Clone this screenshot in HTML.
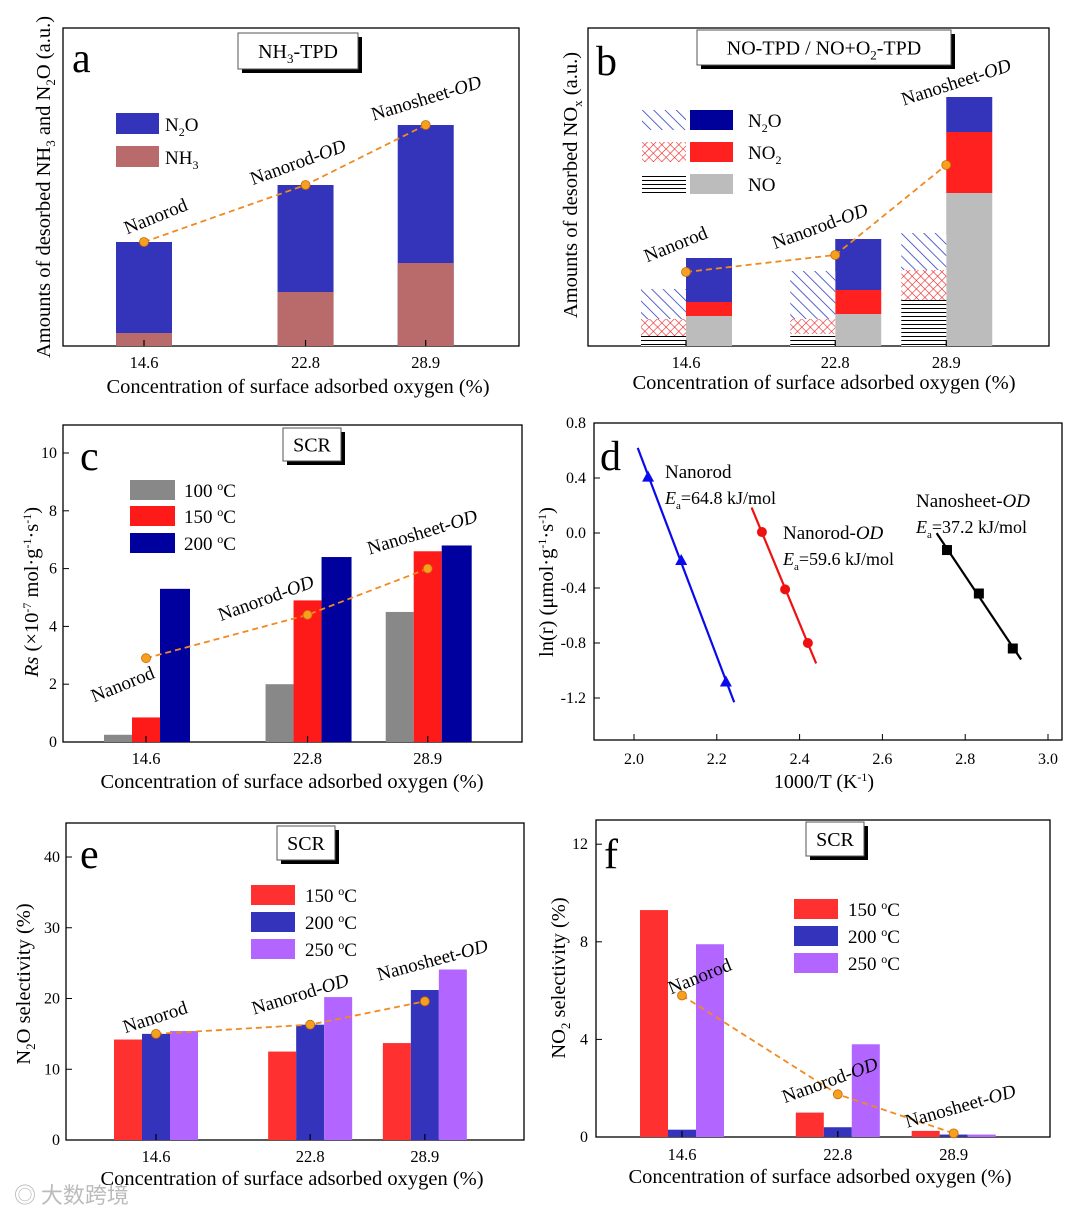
<!DOCTYPE html>
<html><head><meta charset="utf-8"><style>
body{margin:0;background:#fff}
svg{display:block;font-family:"Liberation Serif","Noto Serif CJK SC",serif}
</style></head><body>
<svg id="s" width="1080" height="1215" viewBox="0 0 1080 1215" xmlns="http://www.w3.org/2000/svg">
<defs>
<pattern id="hb" width="8" height="8" patternUnits="userSpaceOnUse" patternTransform="rotate(-45)"><rect width="8" height="8" fill="#fff"/><line x1="0" y1="0" x2="0" y2="8" stroke="#2233bb" stroke-width="1.5"/></pattern>
<pattern id="hr" width="6" height="6" patternUnits="userSpaceOnUse" patternTransform="rotate(45)"><rect width="6" height="6" fill="#fff"/><line x1="0" y1="0" x2="0" y2="6" stroke="#ee2222" stroke-width="1.2"/><line x1="0" y1="0" x2="6" y2="0" stroke="#ee2222" stroke-width="1.2"/></pattern>
<pattern id="hk" width="4" height="4" patternUnits="userSpaceOnUse"><rect width="4" height="4" fill="#fff"/><line x1="0" y1="0.5" x2="4" y2="0.5" stroke="#000" stroke-width="1"/></pattern>
</defs>
</svg>
<script>
// ---- data ----
const conc = [14.6, 22.8, 28.9];
const catLabels = ["Nanorod","Nanorod-OD","Nanosheet-OD"];
// a
const aN2O = [104, 161, 221];
const aNH3 = [13, 54, 83];
// b (solid = NO-TPD, hatched = NO+O2-TPD), stacked NO, NO2, N2O
const bSolidNO = [30, 32, 153];
const bSolidNO2 = [14, 24, 61];
const bSolidN2O = [44, 51, 35];
const bHatchNO = [10, 12, 46];
const bHatchNO2 = [17, 15, 30];
const bHatchN2O = [30, 48, 37];
const bDots = [74, 91, 181];
// c
const c100 = [0.25, 2.0, 4.5];
const c150 = [0.85, 4.9, 6.6];
const c200 = [5.3, 6.4, 6.8];
const cDots = [2.9, 4.4, 6.0];
const cTicks = [0,2,4,6,8,10];
// d
const dBlueX = [2.034, 2.114, 2.222], dBlueY = [0.41, -0.196, -1.08];
const dRedX = [2.309, 2.365, 2.42], dRedY = [0.007, -0.41, -0.80];
const dBlackX = [2.756, 2.833, 2.915], dBlackY = [-0.124, -0.44, -0.84];
const dXTicks = [2.0,2.2,2.4,2.6,2.8,3.0];
const dYTicks = [0.8,0.4,0.0,-0.4,-0.8,-1.2];
// e
const e150 = [14.2, 12.5, 13.7];
const e200 = [15.0, 16.3, 21.2];
const e250 = [15.4, 20.2, 24.1];
const eDots = [15.0, 16.3, 19.6];
const eTicks = [0,10,20,30,40];
// f
const f150 = [9.3, 1.0, 0.25];
const f200 = [0.3, 0.4, 0.1];
const f250 = [7.9, 3.8, 0.1];
const fDots = [5.8, 1.75, 0.15];
const fTicks = [0,4,8,12];

const S = document.getElementById('s');
const NS = 'http://www.w3.org/2000/svg';
function mk(tag, at, parent){const e=document.createElementNS(NS,tag);for(const k in at)e.setAttribute(k,at[k]);(parent||S).appendChild(e);return e;}
function txt(x,y,str,size,extra,parent){const t=mk('text',Object.assign({x:x,y:y,'font-size':size||17},extra||{}),parent);t.innerHTML=str;return t;}
function box(x1,y1,x2,y2){const r=mk('rect',{x:x1,y:y1,width:x2-x1,height:y2-y1,fill:'none',stroke:'#000','stroke-width':1.3});}
function titleBox(x,y,w,h,str){
 const g=mk('g',{});
 mk('rect',{x:x+4,y:y+4,width:w,height:h,fill:'#000'},g);
 mk('rect',{x:x,y:y,width:w,height:h,fill:'#fff',stroke:'#555','stroke-width':1},g);
 txt(x+w/2,y+h/2+7,str,20,{'text-anchor':'middle'},g);
}
function letter(x,y,l){const t=txt(x,y,l,42);}
function bar(x,y,w,h,fill,name){const r=mk('rect',{x:x,y:y,width:w,height:h,fill:fill});return r;}
function xTick(x,y0,len,label,ly){mk('line',{x1:x,y1:y0,x2:x,y2:y0-len,stroke:'#000','stroke-width':1.2});if(label!==null){const t=txt(x,ly,label,16.5,{'text-anchor':'middle'});}}
function dotLine(xs,ys,name){
 let d='';xs.forEach((x,i)=>d+=(i?'L':'M')+x+' '+ys[i]);
 const p=mk('path',{d:d,fill:'none',stroke:'#f08a20','stroke-width':1.8,'stroke-dasharray':'6,4'});
 xs.forEach((x,i)=>{const c=mk('circle',{cx:x,cy:ys[i],r:4.5,fill:'#f5a020',stroke:'#c86a00','stroke-width':0.8});});
}
function catLabel(x,y,rot,i){
 const base=i===0?'Nanorod':(i===1?'Nanorod-':'Nanosheet-');
 const t=txt(x,y,base+(i>0?'<tspan font-style="italic">OD</tspan>':''),19,{transform:`rotate(${rot} ${x} ${y})`,'text-anchor':'middle'});
 
}
function xTitle(x,y){const t=txt(x,y,'Concentration of surface adsorbed oxygen (%)',20.5,{'text-anchor':'middle'});}
function yTitle(x,y,str){const t=txt(x,y,str,20.5,{'text-anchor':'middle',transform:`rotate(-90 ${x} ${y})`});}
function legendItem(x,y,w,h,fill,label,lx,name){bar(x,y,w,h,fill,name);const t=txt(lx,y+h-3,label,19);}

// ===== Panel a =====
{const xa=c=>144+(c-14.6)*19.7, ya=v=>346-v;
 box(63,28,519,346);
 conc.forEach((c,i)=>{const x=xa(c)-28;
  bar(x,ya(aN2O[i]),56,aN2O[i],'#3434bb','bar-n2o-a');
  bar(x,ya(aNH3[i]),56,aNH3[i],'#b96b6b','bar-nh3-a');
  xTick(xa(c),346,6,String(c),368);});
 dotLine(conc.map(xa),aN2O.map(ya),'trend-line-a');
 catLabel(158,222,-22,0);catLabel(300,168,-20,1);catLabel(428,104,-17,2);
 xTitle(298,393);
 yTitle(50,187,'Amounts of desorbed NH<tspan font-size="13" dy="5">3</tspan><tspan dy="-5"> and N</tspan><tspan font-size="13" dy="5">2</tspan><tspan dy="-5">O (a.u.)</tspan>');
 legendItem(116,113,43,21,'#3434bb','N<tspan font-size="12" dy="5">2</tspan><tspan dy="-5">O</tspan>',165,'legend-n2o');
 legendItem(116,146,43,21,'#b96b6b','NH<tspan font-size="12" dy="5">3</tspan>',165,'legend-nh3');
 titleBox(238,33,120,36,'NH<tspan font-size="13" dy="5">3</tspan><tspan dy="-5">-TPD</tspan>');
 letter(72,72,'a');}

// ===== Panel b =====
{const xb=c=>686+(c-14.6)*18.2, yb=v=>346-v;
 box(588,28,1049,346);
 conc.forEach((c,i)=>{const x=xb(c);
  let y=346;
  [[bSolidNO[i],'#bcbcbc','bar-no'],[bSolidNO2[i],'#ff2020','bar-no2'],[bSolidN2O[i],'#3434bb','bar-n2o']].forEach(s=>{y-=s[0];bar(x,y,46,s[0],s[1],s[2]);});
  y=346;
  [[bHatchNO[i],'url(#hk)','bar-no-hatched'],[bHatchNO2[i],'url(#hr)','bar-no2-hatched'],[bHatchN2O[i],'url(#hb)','bar-n2o-hatched']].forEach(s=>{y-=s[0];bar(x-45,y,45,s[0],s[1],s[2]);});
  xTick(x,346,6,String(c),368);});
 dotLine(conc.map(xb),bDots.map(yb),'trend-line-b');
 catLabel(678,250,-22,0);catLabel(822,232,-20,1);catLabel(958,88,-18,2);
 xTitle(824,389);
 yTitle(577,185,'Amounts of desorbed NO<tspan font-size="13" dy="5">x</tspan><tspan dy="-5"> (a.u.)</tspan>');
 [['url(#hb)','#00009a','N<tspan font-size="12" dy="5">2</tspan><tspan dy="-5">O</tspan>',110],['url(#hr)','#ff2020','NO<tspan font-size="12" dy="5">2</tspan>',142],['url(#hk)','#bcbcbc','NO',174]].forEach(l=>{
  bar(642,l[3],44,20,l[0],'legend-swatch-hatched');
  legendItem(690,l[3],43,20,l[1],l[2],748,'legend-swatch');});
 titleBox(697,30,254,35,'NO-TPD / NO+O<tspan font-size="13" dy="5">2</tspan><tspan dy="-5">-TPD</tspan>');
 letter(596,75,'b');}

// ===== Panel c =====
{const xc=c=>146+(c-14.6)*19.7, yc=v=>742-v*28.9;
 box(63,425,522,742);
 cTicks.forEach(t=>{mk('line',{x1:63,y1:yc(t),x2:69,y2:yc(t),stroke:'#000'});const l=txt(57,yc(t)+5,String(t),16,{'text-anchor':'end'});});
 conc.forEach((c,i)=>{const x=xc(c);
  bar(x-42,yc(c100[i]),28,c100[i]*28.9,'#888888','bar-100c');
  bar(x-14,yc(c150[i]),28,c150[i]*28.9,'#ff1a1a','bar-150c');
  bar(x+14,yc(c200[i]),30,c200[i]*28.9,'#00009e','bar-200c');
  xTick(x,742,6,String(c),764);});
 dotLine(conc.map(xc),cDots.map(yc),'trend-line-c');
 catLabel(125,690,-22,0);catLabel(268,604,-20,1);catLabel(424,538,-17,2);
 xTitle(292,788);
 yTitle(38,592,'<tspan font-style="italic">Rs</tspan> (×10<tspan font-size="12" dy="-7">-7</tspan><tspan dy="7"> mol·g</tspan><tspan font-size="12" dy="-7">-1</tspan><tspan dy="7">·s</tspan><tspan font-size="12" dy="-7">-1</tspan><tspan dy="7">)</tspan>');
 legendItem(130,480,45,20,'#888888','100 <tspan font-size="12" dy="-7">o</tspan><tspan dy="7">C</tspan>',184,'legend-100c');
 legendItem(130,506,45,20,'#ff1a1a','150 <tspan font-size="12" dy="-7">o</tspan><tspan dy="7">C</tspan>',184,'legend-150c');
 legendItem(130,533,45,20,'#00009e','200 <tspan font-size="12" dy="-7">o</tspan><tspan dy="7">C</tspan>',184,'legend-200c');
 titleBox(283,428,58,33,'SCR');
 letter(80,470,'c');}

// ===== Panel d =====
{const xd=v=>634+(v-2.0)*414, yd=v=>533-v*137.5;
 box(594,423,1062,740);
 dXTicks.forEach(t=>{mk('line',{x1:xd(t),y1:740,x2:xd(t),y2:734,stroke:'#000'});const l=txt(xd(t),764,t.toFixed(1),16,{'text-anchor':'middle'});});
 dYTicks.forEach(t=>{mk('line',{x1:594,y1:yd(t),x2:600,y2:yd(t),stroke:'#000'});const l=txt(586,yd(t)+5,(t===0?'0.0':t.toFixed(1)),16,{'text-anchor':'end'});});
 function series(X,Y,col,shape,name){
  const n=X.length,mx=X.reduce((a,b)=>a+b)/n,my=Y.reduce((a,b)=>a+b)/n;
  let sxy=0,sxx=0;X.forEach((x,i)=>{sxy+=(x-mx)*(Y[i]-my);sxx+=(x-mx)**2;});
  const m=sxy/sxx,b=my-m*mx,x0=X[0]-0.025,x1=X[n-1]+0.02;
  const ln=mk('line',{x1:xd(x0),y1:yd(m*x0+b),x2:xd(x1),y2:yd(m*x1+b),stroke:col,'stroke-width':2.2});
  
  X.forEach((x,i)=>{const px=xd(x),py=yd(Y[i]);let e;
   if(shape==='tri')e=mk('path',{d:`M${px} ${py-6}L${px+6} ${py+5}L${px-6} ${py+5}Z`,fill:col});
   else if(shape==='circ')e=mk('circle',{cx:px,cy:py,r:5,fill:col});
   else e=mk('rect',{x:px-5,y:py-5,width:10,height:10,fill:col});
   });
 }
 series(dBlueX,dBlueY,'#0a0aee','tri','nanorod');
 series(dRedX,dRedY,'#ee1111','circ','nanorod-od');
 series(dBlackX,dBlackY,'#000','sq','nanosheet-od');
 txt(665,478,'Nanorod',19);txt(665,504,'<tspan font-style="italic">E</tspan><tspan font-size="11" dy="5">a</tspan><tspan dy="-5">=64.8 kJ/mol</tspan>',18);
 txt(783,539,'Nanorod-<tspan font-style="italic">OD</tspan>',19);txt(783,565,'<tspan font-style="italic">E</tspan><tspan font-size="11" dy="5">a</tspan><tspan dy="-5">=59.6 kJ/mol</tspan>',18);
 txt(916,507,'Nanosheet-<tspan font-style="italic">OD</tspan>',19);txt(916,533,'<tspan font-style="italic">E</tspan><tspan font-size="11" dy="5">a</tspan><tspan dy="-5">=37.2 kJ/mol</tspan>',18);
 const xt=txt(824,788,'1000/T (K<tspan font-size="12" dy="-7">-1</tspan><tspan dy="7">)</tspan>',20,{'text-anchor':'middle'});
 yTitle(553,582,'ln(r) (μmol·g<tspan font-size="12" dy="-7">-1</tspan><tspan dy="7">·s</tspan><tspan font-size="12" dy="-7">-1</tspan><tspan dy="7">)</tspan>');
 letter(600,470,'d');}

// ===== Panel e =====
{const xe=c=>156+(c-14.6)*18.8, ye=v=>1140-v*7.075;
 box(66,823,524,1140);
 eTicks.forEach(t=>{mk('line',{x1:66,y1:ye(t),x2:72,y2:ye(t),stroke:'#000'});const l=txt(60,ye(t)+5,String(t),16,{'text-anchor':'end'});});
 conc.forEach((c,i)=>{const x=xe(c);
  bar(x-42,ye(e150[i]),28,e150[i]*7.075,'#ff3030','bar-150c');
  bar(x-14,ye(e200[i]),28,e200[i]*7.075,'#3333bb','bar-200c');
  bar(x+14,ye(e250[i]),28,e250[i]*7.075,'#b266ff','bar-250c');
  xTick(x,1140,6,String(c),1162);});
 dotLine(conc.map(xe),eDots.map(ye),'trend-line-e');
 catLabel(157,1023,-18,0);catLabel(302,1000,-17,1);catLabel(434,966,-15,2);
 xTitle(292,1185);
 yTitle(30,984,'N<tspan font-size="13" dy="5">2</tspan><tspan dy="-5">O selectivity (%)</tspan>');
 legendItem(251,885,44,20,'#ff3030','150 <tspan font-size="12" dy="-7">o</tspan><tspan dy="7">C</tspan>',305,'legend-150c');
 legendItem(251,912,44,20,'#3333bb','200 <tspan font-size="12" dy="-7">o</tspan><tspan dy="7">C</tspan>',305,'legend-200c');
 legendItem(251,939,44,20,'#b266ff','250 <tspan font-size="12" dy="-7">o</tspan><tspan dy="7">C</tspan>',305,'legend-250c');
 titleBox(277,826,58,34,'SCR');
 letter(80,868,'e');}

// ===== Panel f =====
{const xf=c=>682+(c-14.6)*19.0, yf=v=>1137-v*24.4;
 box(596,820,1050,1137);
 fTicks.forEach(t=>{mk('line',{x1:596,y1:yf(t),x2:602,y2:yf(t),stroke:'#000'});const l=txt(588,yf(t)+5,String(t),16,{'text-anchor':'end'});});
 conc.forEach((c,i)=>{const x=xf(c);
  bar(x-42,yf(f150[i]),28,f150[i]*24.4,'#ff3030','bar-150c');
  bar(x-14,yf(f200[i]),28,f200[i]*24.4,'#3333bb','bar-200c');
  bar(x+14,yf(f250[i]),28,f250[i]*24.4,'#b266ff','bar-250c');
  xTick(x,1137,6,String(c),1160);});
 dotLine(conc.map(xf),fDots.map(yf),'trend-line-f');
 catLabel(702,982,-22,0);catLabel(832,1086,-20,1);catLabel(962,1112,-16,2);
 xTitle(820,1183);
 yTitle(565,978,'NO<tspan font-size="13" dy="5">2</tspan><tspan dy="-5"> selectivity (%)</tspan>');
 legendItem(794,899,44,20,'#ff3030','150 <tspan font-size="12" dy="-7">o</tspan><tspan dy="7">C</tspan>',848,'legend-150c');
 legendItem(794,926,44,20,'#3333bb','200 <tspan font-size="12" dy="-7">o</tspan><tspan dy="7">C</tspan>',848,'legend-200c');
 legendItem(794,953,44,20,'#b266ff','250 <tspan font-size="12" dy="-7">o</tspan><tspan dy="7">C</tspan>',848,'legend-250c');
 titleBox(806,822,58,34,'SCR');
 letter(604,868,'f');}

const wm=txt(14,1203,'◎ 大数跨境',22,{fill:'#bbb','font-family':'"Noto Sans CJK SC",sans-serif'});


</script>
</body></html>
